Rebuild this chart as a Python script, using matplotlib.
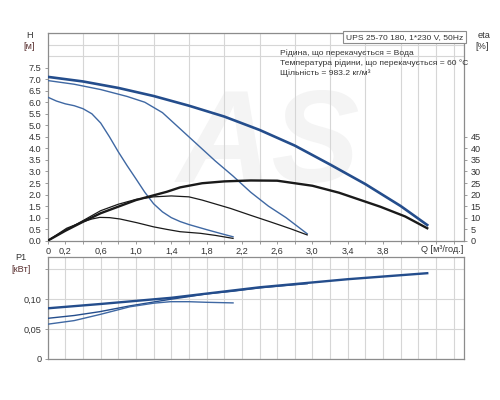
import matplotlib
matplotlib.use("Agg")
import matplotlib.pyplot as plt
import numpy as np

# ---------------- data ----------------
# Head curves H [m] vs Q [m3/h]
q_h3 = [0, 0.4, 0.8, 1.2, 1.6, 2.0, 2.4, 2.8, 3.2, 3.6, 4.0, 4.3]
h3 = [7.1, 6.9, 6.62, 6.27, 5.85, 5.38, 4.8, 4.12, 3.3, 2.45, 1.5, 0.68]

q_h2 = [0, 0.3, 0.6, 0.9, 1.1, 1.3, 1.5, 1.7, 1.9, 2.1, 2.3, 2.5, 2.7, 2.94]
h2 = [6.94, 6.78, 6.55, 6.25, 6.0, 5.55, 4.85, 4.15, 3.45, 2.8, 2.1, 1.5, 1.0, 0.3]

q_h1 = [0, 0.1, 0.2, 0.3, 0.4, 0.5, 0.6, 0.7, 0.8, 0.9, 1.0, 1.1, 1.2, 1.3,
        1.4, 1.5, 1.6, 1.8, 2.0, 2.1]
h1 = [6.22, 6.05, 5.93, 5.85, 5.72, 5.5, 5.1, 4.5, 3.85, 3.25, 2.68, 2.1,
      1.6, 1.25, 1.0, 0.83, 0.7, 0.48, 0.27, 0.17]

# Efficiency curves eta [%]
q_e3 = [0, 0.2, 0.4, 0.6, 1.0, 1.35, 1.5, 1.75, 2.0, 2.3, 2.6, 3.0, 3.3, 3.77, 4.05, 4.3]
e3 = [0, 4.3, 8.2, 11.9, 17.6, 21.2, 23.1, 24.9, 25.7, 26.1, 26.0, 23.8, 20.8, 14.7, 10.5, 5.4]

q_e2 = [0, 0.2, 0.4, 0.6, 0.8, 1.0, 1.2, 1.4, 1.6, 1.75, 2.07, 2.3, 2.52, 2.75, 2.94]
e2 = [0, 4.5, 8.7, 13.0, 15.8, 17.9, 19.0, 19.4, 19.0, 17.6, 14.0, 11.0, 8.2, 5.2, 2.5]

q_e1 = [0, 0.215, 0.4, 0.5, 0.59, 0.7, 0.82, 1.01, 1.2, 1.35, 1.5, 1.73, 1.9, 2.1]
e1 = [0, 5.4, 8.2, 9.4, 10.1, 10.0, 9.4, 7.8, 6.0, 4.9, 3.9, 3.2, 2.3, 1.0]

# Power curves P1 [kW]
q_p3 = [0, 0.6, 1.4, 2.4, 3.4, 4.3]
p3 = [0.0845, 0.0917, 0.102, 0.1195, 0.133, 0.143]

q_p2 = [0, 0.3, 0.59, 0.93, 1.2, 1.39, 1.6, 1.8, 2.1, 2.4, 2.7, 2.94]
p2 = [0.0678, 0.0725, 0.0789, 0.0885, 0.095, 0.0995, 0.104, 0.1085, 0.113,
      0.1185, 0.1225, 0.1255]

q_p1 = [0, 0.3, 0.6, 0.93, 1.2, 1.39, 1.6, 1.8, 2.1]
p1 = [0.058, 0.064, 0.0745, 0.087, 0.093, 0.0955, 0.0955, 0.0945, 0.0935]

x_ticks = [0, 0.2, 0.6, 1.0, 1.4, 1.8, 2.2, 2.6, 3.0, 3.4, 3.8]
x_ticklabels = ["0", "0,2", "0,6", "1,0", "1,4", "1,8", "2,2", "2,6", "3,0", "3,4", "3,8"]
h_ticks = [0, 0.5, 1.0, 1.5, 2.0, 2.5, 3.0, 3.5, 4.0, 4.5, 5.0, 5.5, 6.0, 6.5, 7.0, 7.5]
eta_ticks = [0, 5, 10, 15, 20, 25, 30, 35, 40, 45]
p_ticks = [0, 0.05, 0.10, 0.15]
p_ticklabels = ["0", "0,05", "0,10", ""]

info_title = "UPS 25-70 180, 1*230 V, 50Hz"
info_lines = ["Рідина, що перекачується = Вода",
              "Температура рідини, що перекачується = 60 °C",
              "Щільність = 983.2 кг/м³"]

# ---------------- style ----------------
plt.rcParams['font.family'] = ['Liberation Sans', 'DejaVu Sans']
TXT = '#333333'
GRID = '#d6d6d6'
SPINE = '#8c8c8c'
BLUE_T = '#244d8c'
BLUE = '#3f68a3'
BLACK = '#1a1a1a'
FS = 6.6
FSI = 6.1

fig = plt.figure(figsize=(5, 4), dpi=100)
W, H = 500.0, 400.0

def frac(l, t, r, b):
    return [l / W, 1 - b / H, (r - l) / W, (b - t) / H]

XMAX = 4.72

# ---------------- top panel ----------------
ax = fig.add_axes(frac(47.7, 33, 464.3, 240.7))
ax.set_xlim(0, XMAX)
ax.set_ylim(0, 9)
ax.set_xticks(np.arange(0, 4.61, 0.2), minor=True)
ax.set_yticks(np.arange(0, 9.01, 0.5), minor=True)
ax.grid(True, which='minor', color=GRID, lw=0.8)
ax.set_axisbelow(True)
ax.set_xticks(x_ticks)
ax.set_xticklabels(x_ticklabels)
ax.set_yticks(h_ticks)
ax.set_yticklabels([f"{v:.1f}" for v in h_ticks])
ax.tick_params(which='major', length=2.5, width=0.6, color=SPINE,
               labelsize=FS, labelcolor=TXT, pad=2)
ax.tick_params(which='minor', length=2, width=0.6, color=SPINE)
ax.tick_params(axis='y', which='minor', length=0)
for s in ax.spines.values():
    s.set_color(SPINE)
    s.set_linewidth(0.9)

ax.text(0.53, 0.45, "AS", transform=ax.transAxes, fontsize=95, color='#f4f4f4',
        ha='center', va='center', fontweight='bold', zorder=0.2,
        style='italic')

ax.plot(q_h3, h3, color=BLUE_T, lw=1.9, zorder=4)
ax.plot(q_h2, h2, color=BLUE, lw=1.0, zorder=4)
ax.plot(q_h1, h1, color=BLUE, lw=1.0, zorder=4)

ax2 = ax.twinx()
ax2.set_ylim(0, 90)
ax2.set_yticks(eta_ticks)
ax2.set_yticklabels([str(v) for v in eta_ticks])
ax2.tick_params(length=2.5, width=0.6, color=SPINE, labelsize=FS,
                labelcolor=TXT, pad=2)
for s in ax2.spines.values():
    s.set_visible(False)
ax2.plot(q_e3, e3, color=BLACK, lw=1.7, zorder=3)
ax2.plot(q_e2, e2, color=BLACK, lw=0.9, zorder=3)
ax2.plot(q_e1, e1, color=BLACK, lw=0.9, zorder=3)

fig.text(30 / W, 1 - 36 / H, "H", fontsize=FS, color=TXT, ha='center', va='center')
fig.text(29 / W, 1 - 46.5 / H, "[м]", fontsize=FS, color='#5a3030', ha='center', va='center')
fig.text(484 / W, 1 - 36 / H, "eta", fontsize=FS, color=TXT, ha='center', va='center')
fig.text(482 / W, 1 - 46.5 / H, "[%]", fontsize=FS, color=TXT, ha='center', va='center')
fig.text(442 / W, 1 - 249 / H, "Q [м³/год.]", fontsize=FS, color=TXT, ha='center', va='center')

ax.text(0.9975, 0.996, info_title, transform=ax.transAxes, fontsize=FSI,
        color=TXT, ha='right', va='top', zorder=6,
        bbox=dict(boxstyle='square,pad=0.3', fc='white', ec=SPINE, lw=0.8))
for i, line in enumerate(info_lines):
    fig.text(280 / W, 1 - (53.3 + i * 10.1) / H, line, fontsize=FSI,
             color=TXT, ha='left', va='center')

# ---------------- bottom panel ----------------
bx = fig.add_axes(frac(47.7, 257.3, 464.3, 359))
bx.set_xlim(0, XMAX)
bx.set_ylim(0, 0.1695)
bx.set_xticks(np.arange(0, 4.61, 0.2))
bx.set_xticklabels([])
bx.tick_params(axis='x', length=0)
bx.set_yticks(p_ticks)
bx.set_yticklabels(p_ticklabels)
bx.tick_params(axis='y', length=2.5, width=0.6, color=SPINE, labelsize=FS,
               labelcolor=TXT, pad=2)
bx.grid(True, color=GRID, lw=0.8)
bx.set_axisbelow(True)
for s in bx.spines.values():
    s.set_color(SPINE)
    s.set_linewidth(0.9)

bx.plot(q_p3, p3, color=BLUE_T, lw=1.7, zorder=4)
bx.plot(q_p2, p2, color=BLUE_T, lw=1.0, zorder=4)
bx.plot(q_p1, p1, color=BLUE, lw=1.0, zorder=4)

fig.text(21 / W, 1 - 258 / H, "P1", fontsize=FS, color=TXT, ha='center', va='center')
fig.text(21 / W, 1 - 270 / H, "[кВт]", fontsize=FS, color='#5a3030', ha='center', va='center')

fig.savefig("out.png", dpi=100)
